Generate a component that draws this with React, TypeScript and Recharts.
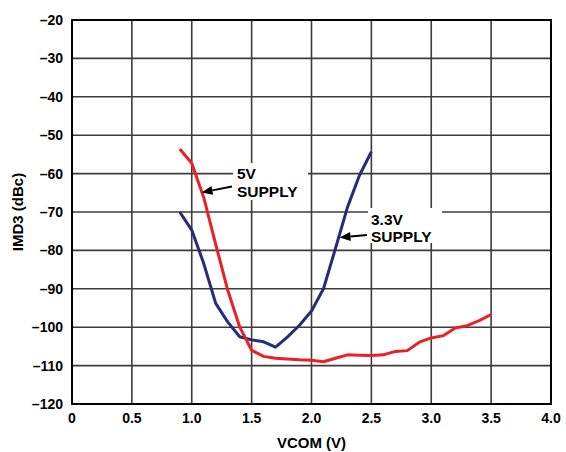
import {
  LineChart,
  Line,
  XAxis,
  YAxis,
  CartesianGrid,
  ReferenceArea,
  Label,
} from "recharts";

// VCOM (V) sample points
const vcom5V = [
  0.9, 1.0, 1.1, 1.2, 1.3, 1.4, 1.5, 1.6, 1.7, 1.8, 1.9, 2.0, 2.1, 2.2, 2.3,
  2.4, 2.5, 2.6, 2.7, 2.8, 2.9, 3.0, 3.1, 3.2, 3.3, 3.4, 3.5,
];
const imd5V = [
  -53.6, -57.3, -66.2, -78.4, -90.3, -99.9, -106, -107.6, -108.1, -108.3,
  -108.5, -108.6, -109, -108.1, -107.2, -107.3, -107.4, -107.2, -106.3,
  -106.1, -103.9, -102.8, -102.2, -100.2, -99.6, -98.3, -96.7,
];

const vcom33V = [
  0.9, 1.0, 1.1, 1.2, 1.3, 1.4, 1.5, 1.6, 1.7, 1.8, 1.9, 2.0, 2.1, 2.2, 2.3,
  2.4, 2.5,
];
const imd33V = [
  -70, -74.7, -83.4, -93.8, -98.6, -102.5, -103.3, -103.8, -105.2, -102.5,
  -99.5, -95.8, -90, -79.5, -68.8, -60.5, -54.3,
];

const xTicks = [0, 0.5, 1.0, 1.5, 2.0, 2.5, 3.0, 3.5, 4.0];
const yTicks = [-120, -110, -100, -90, -80, -70, -60, -50, -40, -30, -20];

const data5V = vcom5V.map((v, i) => ({ v, imd: imd5V[i] }));
const data33V = vcom33V.map((v, i) => ({ v, imd: imd33V[i] }));

const FONT = "'Liberation Sans', Arial, Helvetica, sans-serif";
const RED = "#ED1F26";
const BLUE = "#272B7B";

const tickStyle = { fontFamily: FONT, fontSize: 14, fontWeight: 700, fill: "#000" };

const Arrow = ({ x1, y1, x2, y2 }: { x1: number; y1: number; x2: number; y2: number }) => {
  const a = Math.atan2(y2 - y1, x2 - x1);
  const len = 11;
  const w = 4.5;
  const bx = x2 - len * Math.cos(a);
  const by = y2 - len * Math.sin(a);
  const px = -Math.sin(a) * w;
  const py = Math.cos(a) * w;
  return (
    <g>
      <line x1={x1} y1={y1} x2={bx} y2={by} stroke="#000" strokeWidth={2} />
      <polygon
        points={`${x2},${y2} ${bx + px},${by + py} ${bx - px},${by - py}`}
        fill="#000"
      />
    </g>
  );
};

export default function App() {
  return (
    <div style={{ position: "absolute", left: 0, top: 0, width: 566, height: 452 }}>
      <LineChart
        width={566}
        height={452}
        margin={{ top: 20, right: 15, left: 0, bottom: 0 }}
      >
        <CartesianGrid stroke="#3c3c3c" strokeWidth={1.6} />
        <XAxis
          type="number"
          dataKey="v"
          domain={[0, 4]}
          ticks={xTicks}
          allowDuplicatedCategory={false}
          tickFormatter={(t: number) => (t === 0 ? "0" : t.toFixed(1))}
          tick={tickStyle}
          tickLine={false}
          tickSize={6}
          tickMargin={3}
          height={48}
          axisLine={{ stroke: "#000", strokeWidth: 2 }}
          interval={0}
        >
          <Label
            content={({ viewBox }: any) => (
              <text
                x={viewBox.x + viewBox.width / 2}
                y={viewBox.y + 44}
                textAnchor="middle"
                style={{ fontFamily: FONT, fontSize: 15, fontWeight: 700 }}
              >
                VCOM (V)
              </text>
            )}
          />
        </XAxis>
        <YAxis
          type="number"
          domain={[-120, -20]}
          ticks={yTicks}
          tickFormatter={(t: number) => String(t).replace("-", "\u2013")}
          tick={tickStyle}
          tickLine={false}
          tickSize={6}
          tickMargin={3}
          width={72}
          axisLine={{ stroke: "#000", strokeWidth: 2 }}
          interval={0}
        >
          <Label
            content={({ viewBox }: any) => {
              const cx = 17.5;
              const cy = viewBox.y + viewBox.height / 2;
              return (
                <text
                  x={cx}
                  y={cy}
                  textAnchor="middle"
                  dominantBaseline="central"
                  transform={`rotate(-90, ${cx}, ${cy})`}
                  style={{ fontFamily: FONT, fontSize: 15, fontWeight: 700 }}
                >
                  IMD3 (dBc)
                </text>
              );
            }}
          />
        </YAxis>
        <ReferenceArea
          x1={0}
          x2={4}
          y1={-120}
          y2={-20}
          fill="none"
          stroke="#000"
          strokeWidth={2}
          ifOverflow="extendDomain"
        />
        <Line
          data={data33V}
          dataKey="imd"
          stroke={BLUE}
          strokeWidth={3}
          dot={false}
          isAnimationActive={false}
          strokeLinejoin="round"
        />
        <Line
          data={data5V}
          dataKey="imd"
          stroke={RED}
          strokeWidth={3}
          dot={false}
          isAnimationActive={false}
          strokeLinejoin="round"
        />
      </LineChart>
      <svg
        width={566}
        height={452}
        style={{ position: "absolute", left: 0, top: 0, pointerEvents: "none" }}
      >
        <g style={{ fontFamily: FONT, fontSize: 15.5, fontWeight: 700 }}>
          <rect x={233} y={163} width={75} height={37} fill="#fff" />
          <text x={237} y={179}>5V</text>
          <text x={237} y={197}>SUPPLY</text>
          <Arrow x1={232} y1={186.5} x2={201.5} y2={192.5} />

          <rect x={368} y={208} width={74} height={35} fill="#fff" />
          <text x={371} y={225}>3.3V</text>
          <text x={371} y={242}>SUPPLY</text>
          <Arrow x1={367} y1={235} x2={339.5} y2={237.5} />
        </g>
      </svg>
    </div>
  );
}
